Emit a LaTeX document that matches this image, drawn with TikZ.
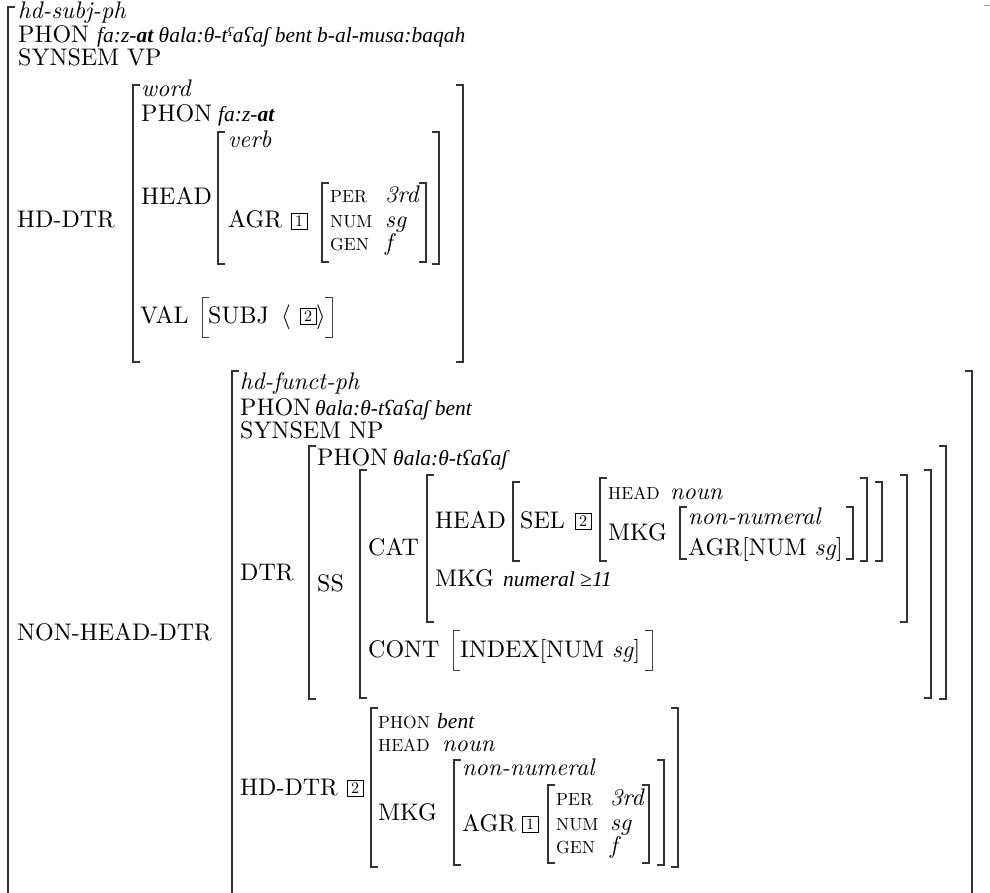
\documentclass[tikz,border=0pt]{standalone}
\usepackage{fontspec}
\setmainfont{lmroman10-regular.otf}[ItalicFont=lmroman10-italic.otf, BoldFont=lmroman10-bold.otf, BoldItalicFont=lmroman10-bolditalic.otf]
\newfontfamily\tmsf{Liberation Serif}
\tikzset{
  lbl/.style={anchor=base west, inner sep=0pt, font=\fontsize{24}{28}\selectfont},
  itx/.style={anchor=base west, inner sep=0pt, font=\fontsize{24}{28}\selectfont\itshape},
  sml/.style={anchor=base west, inner sep=0pt, font=\fontsize{17.5}{20}\selectfont},
  phn/.style={anchor=base west, inner sep=0pt, font=\fontsize{21.5}{24}\selectfont\tmsf\itshape},
  boxtag/.style={draw, line width=0.9pt, inner sep=0pt, minimum size=16pt, font=\fontsize{16}{16}\selectfont},
  brk/.style={line width=1.4pt, black!80},
  tbrk/.style={line width=0.9pt, black!75},
}
\newcommand{\avmL}[4][brk]{\draw[#1] (#2+7,#3) -- (#2,#3) -- (#2,#4) -- (#2+7,#4);}
\newcommand{\avmR}[4][brk]{\draw[#1] (#2-7,#3) -- (#2,#3) -- (#2,#4) -- (#2-7,#4);}
\newcommand{\phsup}{{\fontsize{13}{13}\selectfont\raisebox{6pt}{ʕ}}}
\begin{document}
\begin{tikzpicture}[x=1pt,y=-1pt]
\useasboundingbox[fill=white] (0,0) rectangle (990,893);
% outer bracket
\draw[brk] (15,7) -- (8,7) -- (8,893);
\draw[line width=1pt, black!35] (984,6) -- (990,6);
% top rows
\node[itx] (hsp) at (18,19) {hd-subj-ph};
\node[lbl] (ph1) at (18,43) {PHON};
\node[phn] (ph1v) at (97,43) {fa:z-\textbf{at} θala:θ-t\phsup aʕaʃ bent b-al-musa:baqah};
\node[lbl] (syn1) at (18,66) {SYNSEM VP};
% HD-DTR
\node[lbl] (hdd) at (17,228) {HD-DTR};
\avmL{133}{85}{362} \avmR{463}{85}{362}
\node[itx] (wrd) at (141,97) {word};
\node[lbl] (ph2) at (141,122) {PHON};
\node[phn] (ph2v) at (218,122) {fa:z-\textbf{at}};
\node[lbl] (hd2) at (141,205) {HEAD};
\avmL{218}{132}{264} \avmR{439}{132}{264}
\node[itx] (vrb) at (228,148) {verb};
\node[lbl] (agr1) at (228,228) {AGR};
\node[boxtag] (bx1) at (299,221) {1};
\avmL{322}{183}{262} \avmR{426}{183}{262}
\node[sml] (per1) at (330,203) {PER};
\node[sml] (num1) at (330,228) {NUM};
\node[sml] (gen1) at (330,251) {GEN};
\node[itx] (v3rd) at (385,203) {3rd};
\node[itx] (vsg) at (385,228) {sg};
\node[itx] (vf) at (385,251) {f};
\node[lbl] (val) at (140,323) {VAL};
\avmL[tbrk]{202}{297}{337} \avmR[tbrk]{332}{297}{337}
\node[lbl] (subj) at (208,323) {SUBJ};
\node[lbl] (la) at (281,323) {$\langle$};
\node[boxtag] (bx2) at (308,316) {2};
\node[lbl] (ra) at (316,323) {$\rangle$};
% NON-HEAD-DTR
\node[lbl] (nhd) at (17,640) {NON-HEAD-DTR};
\draw[brk] (239,371) -- (232,371) -- (232,893);
\draw[brk] (965,371) -- (972,371) -- (972,893);
\node[itx] (hfp) at (240,389) {hd-funct-ph};
\node[lbl] (ph3) at (240,415) {PHON};
\node[phn] (ph3v) at (315,415) {θala:θ-tʕaʕaʃ bent};
\node[lbl] (syn3) at (240,438) {SYNSEM NP};
% DTR
\node[lbl] (dtr) at (240,580) {DTR};
\avmL{309}{446}{699} \avmR{946}{446}{699}
\node[lbl] (ph4) at (317,465) {PHON};
\node[phn] (ph4v) at (393,465) {θala:θ-tʕaʕaʃ};
\node[lbl] (ss) at (317,591) {SS};
\avmL{360}{470}{698} \avmR{931}{470}{698}
\node[lbl] (cat) at (368,555) {CAT};
\avmL{427}{475}{622} \avmR{907}{475}{622}
\node[lbl] (hd5) at (435,528) {HEAD};
\avmL{513}{482}{561} \avmR{882}{482}{561}
\node[lbl] (sel) at (520,528) {SEL};
\node[boxtag] (bx3) at (583,521) {2};
\avmL{600}{478}{561} \avmR{867}{478}{561}
\node[sml] (hd6) at (608,499) {HEAD};
\node[itx] (noun1) at (670,499) {noun};
\node[lbl] (mkg1) at (608,540) {MKG};
\avmL{680}{507}{559} \avmR{853}{507}{559}
\node[itx] (nn1) at (688,524) {non-numeral};
\node[lbl] (agr2) at (688,555) {AGR[NUM \textit{sg}]};
\node[lbl] (mkg3) at (435,586) {MKG};
\node[phn] (numv) at (503,586) {numeral ≥11};
\node[lbl] (cont) at (368,657) {CONT};
\avmL[tbrk]{453}{630}{670} \avmR[tbrk]{652}{630}{670}
\node[lbl] (idx) at (460,657) {INDEX[NUM \textit{sg}]};
% HD-DTR 2
\node[lbl] (hdd2) at (240,795) {HD-DTR};
\node[boxtag] (bx4) at (355,788) {2};
\avmL{371}{708}{867} \avmR{678}{708}{867}
\node[sml] (ph5) at (378,728) {PHON};
\node[phn] (ph5v) at (437,728) {bent};
\node[sml] (hd7) at (378,751) {HEAD};
\node[itx] (noun2) at (442,751) {noun};
\node[lbl] (mkg2) at (378,820) {MKG};
\avmL{454}{760}{865} \avmR{664}{760}{865}
\node[itx] (nn2) at (462,775) {non-numeral};
\node[lbl] (agr3) at (462,831) {AGR};
\node[boxtag] (bx5) at (530,824) {1};
\avmL{548}{785}{863} \avmR{649}{785}{863}
\node[sml] (per2) at (556,805) {PER};
\node[sml] (num2) at (556,830) {NUM};
\node[sml] (gen2) at (556,853) {GEN};
\node[itx] (w3rd) at (610,805) {3rd};
\node[itx] (wsg) at (610,830) {sg};
\node[itx] (wf) at (610,853) {f};
\end{tikzpicture}
\end{document}
